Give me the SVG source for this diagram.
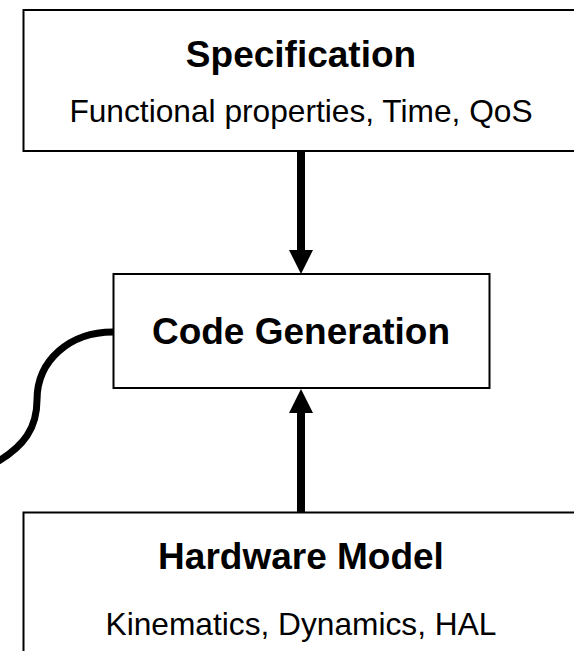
<svg xmlns="http://www.w3.org/2000/svg" width="574" height="651" viewBox="0 0 574 651">
<style>
.box{fill:#fff;stroke:#000;stroke-width:2}
.title{font-family:"Liberation Sans",Arial,sans-serif;font-weight:bold;font-size:37px;text-anchor:middle;fill:#000}
.sub{font-family:"Liberation Sans",Arial,sans-serif;font-size:31.7px;text-anchor:middle;fill:#000}
.conn{fill:none;stroke:#000;stroke-width:8}
.curve{fill:none;stroke:#000;stroke-width:7}
</style>
<defs>
<marker id="ah" markerUnits="userSpaceOnUse" markerWidth="24" markerHeight="24" viewBox="0 0 24 24" refX="0" refY="12" orient="auto">
<path d="M0,0 L24,12 L0,24 Z" fill="#000"/>
</marker>
</defs>
<rect width="574" height="651" fill="#fff"/>
<g id="spec">
<rect class="box" x="23.5" y="10" width="600" height="141"/>
<text class="title" x="301" y="67">Specification</text>
<text class="sub" x="301" y="122">Functional properties, Time, QoS</text>
</g>
<g id="codegen">
<rect class="box" x="113.5" y="274" width="376" height="114"/>
<text class="title" x="301" y="344">Code Generation</text>
</g>
<g id="hardware">
<rect class="box" x="23.5" y="512.5" width="600" height="200"/>
<text class="title" x="301" y="569">Hardware Model</text>
<text class="sub" x="301" y="635">Kinematics, Dynamics, HAL</text>
</g>
<g id="connectors">
<line class="conn" x1="301" y1="151" x2="301" y2="250" marker-end="url(#ah)"/>
<line class="conn" x1="301" y1="512" x2="301" y2="413" marker-end="url(#ah)"/>
<path class="curve" d="M113,332 C70,332 37,360 37,400 C37,428 24,446 -3,462"/>
</g>
</svg>
